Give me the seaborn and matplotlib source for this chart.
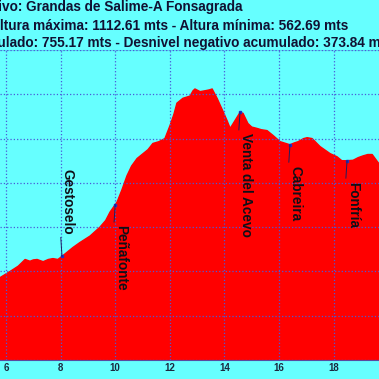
import numpy as np
import matplotlib
matplotlib.use("Agg")
import matplotlib.pyplot as plt
import seaborn as sns

# perfil (km, metros)
km = [5.5, 5.78, 6.15, 6.45, 6.70, 6.88, 7.0, 7.14, 7.36, 7.55, 7.72, 7.9, 8.05, 8.25,
      8.45, 8.7, 9.08, 9.44, 9.65, 9.81, 10.07, 10.25, 10.43, 10.6, 10.80, 11.02, 11.2,
      11.38, 11.6, 11.82, 12.01, 12.15, 12.26, 12.48, 12.74, 12.85, 12.92, 13.11, 13.29,
      13.45, 13.55, 13.73, 13.95, 14.1, 14.21, 14.39, 14.57, 14.68, 14.86, 15.0, 15.19,
      15.35, 15.56, 15.78, 16.04, 16.40, 16.55, 16.70, 16.9, 17.03, 17.21, 17.50, 17.87,
      18.12, 18.30, 18.49, 18.71, 18.9, 19.08, 19.25, 19.41, 19.66, 19.9]
altura = [675, 686, 700, 712, 727, 723, 726, 727, 722, 727, 729, 727, 734, 744,
          754, 765, 780, 800, 815, 834, 857, 885, 916, 938, 955, 966, 975,
          989, 993, 1000, 1030, 1055, 1080, 1091, 1096, 1108, 1112, 1106, 1108,
          1110, 1112, 1091, 1061, 1040, 1023, 1041, 1059, 1057, 1034, 1026, 1023,
          1020, 1018, 1007, 993, 986, 990, 993, 1000, 1002, 1000, 982, 966,
          959, 950, 950, 951, 957, 961, 964, 964, 943, 930]

puntos = ["Gestoselo", "Peñafonte", "Venta del Acevo", "Cabreira", "Fonfría"]
puntos_km = [8.05, 10.0, 14.57, 16.40, 18.49]
puntos_arriba = [True, False, False, False, False]

titulo = ["Camino Primitivo: Grandas de Salime-A Fonsagrada",
          "Altura máxima: 1112.61 mts - Altura mínima: 562.69 mts",
          "Desnivel positivo acumulado: 755.17 mts - Desnivel negativo acumulado: 373.84 mts"]

cian = "#66ffff"
sns.set_style("white")
plt.rcParams["font.family"] = ["Liberation Sans", "DejaVu Sans"]

fig = plt.figure(figsize=(3.79, 3.79), dpi=100, facecolor=cian)
ax = fig.add_axes([0, 19 / 379, 1, 310 / 379])
ax.set_facecolor(cian)

ax.fill_between(km, altura, 500, color="#ff0000", lw=0, zorder=1)
sns.lineplot(x=km, y=altura, ax=ax, color="#ff0000", lw=1, zorder=2)

ax.set_xlim(5.78, 19.66)
ax.set_ylim(500, 1200)
ax.set_xticks(np.arange(6, 20, 2))
ax.set_yticks(np.arange(500, 1201, 100))
ax.grid(True, color="#4a5ad8", linestyle=":", lw=0.9, zorder=3)
ax.set_axisbelow(False)
ax.tick_params(axis="x", length=0, pad=2, labelsize=7, labelcolor="#1a2a40")
for t in ax.get_xticklabels():
    t.set_fontweight("bold")
ax.tick_params(axis="y", left=False, labelleft=False)
for s in ["left", "right"]:
    ax.spines[s].set_visible(False)
ax.spines["top"].set_color("#55d8f0")
ax.spines["bottom"].set_color("#5a4aa0")

alt_puntos = np.interp(puntos_km, km, altura)
for nombre, x, y, arriba in zip(puntos, puntos_km, alt_puntos, puntos_arriba):
    ax.plot(x, y, marker="s", ms=1.8, color="#2030c8", zorder=5)
    if arriba:
        ax.annotate(nombre, (x, y), xytext=(-1, 16), textcoords="offset points",
                    rotation=270, ha="left", va="bottom", fontsize=9.8, fontweight="bold",
                    color="#101018", zorder=6,
                    arrowprops=dict(arrowstyle="-", color="#202060", lw=0.7,
                                    shrinkA=0, shrinkB=0, relpos=(0, 0)))
    else:
        ax.annotate(nombre, (x, y), xytext=(-1, -15), textcoords="offset points",
                    rotation=270, ha="left", va="top", fontsize=9.8, fontweight="bold",
                    color="#101018", zorder=6,
                    arrowprops=dict(arrowstyle="-", color="#202060", lw=0.7,
                                    shrinkA=0, shrinkB=0, relpos=(0, 1)))

fig.text(242 / 379, 1 - 7 / 379, titulo[0], ha="right", va="center",
         fontsize=9.8, fontweight="bold", color="#111133")
fig.text(348 / 379, 1 - 26 / 379, titulo[1], ha="right", va="center",
         fontsize=9.8, fontweight="bold", color="#111133")
fig.text(393 / 379, 1 - 43 / 379, titulo[2], ha="right", va="center",
         fontsize=9.8, fontweight="bold", color="#111133")

fig.savefig("out.png", dpi=100, facecolor=cian)
